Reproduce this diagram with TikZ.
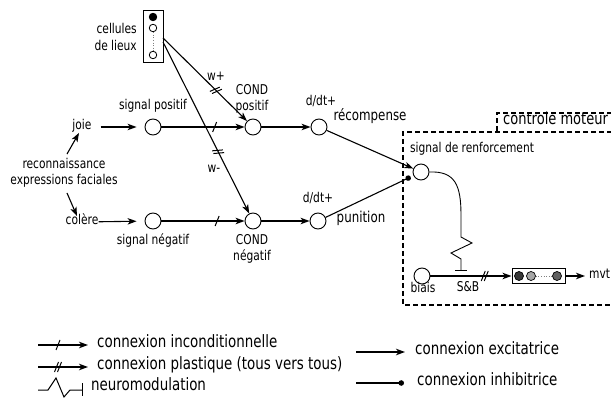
\documentclass[tikz,border=0pt]{standalone}
\usepackage{fontspec}
\setmainfont{DejaVu Sans}[FakeStretch=0.79]
\usetikzlibrary{arrows.meta,decorations.markings,calc}
\begin{document}
\begin{tikzpicture}[x=1pt,y=-1pt,
  neuron/.style={circle,draw,line width=0.9pt,minimum size=16pt,inner sep=0pt,fill=white},
  smallc/.style={circle,draw,line width=0.8pt,minimum size=7.5pt,inner sep=0pt},
  motc/.style={circle,draw,line width=0.7pt,minimum size=9pt,inner sep=0pt},
  lab/.style={font=\fontsize{13.5}{16.5}\selectfont,inner sep=0pt,text height=1ex,text depth=0pt},
  biglab/.style={font=\fontsize{15}{18}\selectfont,inner sep=0pt,text height=1ex,text depth=0pt},
  lab2/.style={font=\fontsize{13.5}{16.5}\selectfont,inner sep=0pt,align=center},
  leg/.style={font=\fontsize{17}{19}\selectfont,inner sep=0pt,anchor=west,text height=1ex,text depth=0pt},
  exc/.style={line width=1.1pt,-{Stealth[length=9pt,width=6.5pt,inset=2.5pt]}},
  inh/.style={line width=1.1pt,-{Circle[length=5.5pt]}},
  slash/.style={postaction={decorate},decoration={markings,mark=at position #1 with {\draw[line width=1pt,-] (-2pt,-5pt)--(2pt,5pt);}}},
  dslash/.style={postaction={decorate},decoration={markings,mark=at position #1 with {\draw[line width=1pt,-] (-3.5pt,-5pt)--(0.5pt,5pt) (-0.5pt,-5pt)--(3.5pt,5pt);}}},
  dbox/.style={line width=1.1pt,dash pattern=on 5pt off 3pt},
]
\useasboundingbox (0,0) rectangle (611,398);

% place cells
\node[draw,line width=1pt,minimum width=20pt,minimum height=52pt,inner sep=0pt] (cells) at (153,37) {};
\node[smallc,fill=black] (c1) at (153,17) {};
\node[smallc,fill=white] (c2) at (153,28) {};
\node[smallc,fill=white] (c3) at (153,55) {};
\draw[dotted,line width=0.6pt,gray] (c2) -- (c3);
\node[lab2,align=right,anchor=east] (celllab) at (137,37) {cellules\\de lieux};
\coordinate (wpo) at (163,38);
\coordinate (wmo) at (163,42);

% inputs
\node[lab2] (reco) at (64,173) {reconnaissance\\expressions faciales};
\node[lab] (joie) at (82,127) {joie};
\node[lab] (colere) at (82,222) {colère};

% positive row
\node[neuron] (sp) at (153,127) {};
\node[lab] (splab) at (153,107) {signal positif};
\node[neuron] (condp) at (253,127) {};
\node[lab2] (condplab) at (252,99) {COND\\positif};
\node[neuron] (rec) at (319,127) {};
\node[lab] (reclab1) at (321,103) {d/dt+};
\node[biglab] (reclab2) at (370,118) {récompense};

% negative row
\node[neuron] (sn) at (153,221) {};
\node[lab] (snlab) at (153,242) {signal négatif};
\node[neuron] (condn) at (253,221) {};
\node[lab2] (condnlab) at (252,249) {COND\\négatif};
\node[neuron] (pun) at (318,221) {};
\node[lab] (punlab1) at (318,200) {d/dt+};
\node[biglab] (punlab2) at (361,220) {punition};

% w labels
\node[lab] (wplus) at (216,78) {w+};
\node[lab] (wminus) at (214,170) {w-};

% motor control
\node[neuron] (renf) at (421,172) {};
\node[lab] (renflab) at (472,150) {signal de renforcement};
\node[neuron] (biais) at (422,276) {};
\node[lab] (biaislab) at (423,290) {biais};
\node[lab] (sb) at (468,289) {S\&B};
\node[draw,line width=1pt,minimum width=53pt,minimum height=15pt,inner sep=0pt] (motor) at (538.5,276) {};
\node[motc,fill=black!78] (m1) at (519,276) {};
\node[motc,fill=black!35] (m2) at (531,276) {};
\node[motc,fill=black!62] (m3) at (557,276) {};
\draw[dotted,line width=0.6pt,gray] (m2) -- (m3);
\node[lab,anchor=west] (mvt) at (589,276) {mvt};
\coordinate (tbar) at (461,271);

% dashed boxes
\draw[dbox] (612,132) -- (403,132) -- (403,305) -- (612,305);
\draw[dbox] (612,113) -- (497,113) -- (497,132);
\node[font=\fontsize{16.5}{19}\selectfont,inner sep=0pt,anchor=west,text height=1ex,text depth=0pt] (ctrl) at (503,122) {controle moteur};

% connectors
\draw[exc,shorten <=9pt,shorten >=8pt] (joie) -- (sp);
\draw[exc,shorten >=8pt] (colere) -- (sn);
\draw[exc] ($(reco.north)+(3,-4)$) -- ($(joie.south)+(-3,3)$);
\draw[exc] ($(reco.south)+(3,5)$) -- ($(colere.north)+(-5,-3)$);
\draw[exc,slash=0.64] (sp) -- (condp);
\draw[exc,slash=0.67] (sn) -- (condn);
\draw[exc,dslash=0.63] (wpo) -- (condp);
\draw[exc,dslash=0.64] (wmo) -- (condn);
\draw[exc] (condp) -- (rec);
\draw[exc] (condn) -- (pun);
\draw[exc] (rec) -- (renf);
\draw[inh,shorten >=3pt] (pun) -- (renf);
\draw[line width=0.9pt] (renf.east) .. controls (455,171) and (461,185) .. (461,215) -- (461,237) -- (472,243) -- (451,253) -- (461,259) -- (tbar);
\draw[line width=1pt] ($(tbar)+(-6,0)$) -- ($(tbar)+(6,0)$);
\draw[exc,dslash=0.67] (biais) -- (motor);
\draw[exc,shorten >=4pt] (motor) -- (mvt);

% legend
\coordinate (l1a) at (38,345); \coordinate (l1b) at (88,345);
\draw[exc,slash=0.4] (l1a) -- (l1b);
\node[leg] (l1t) at (97,345) {connexion inconditionnelle};
\coordinate (l2a) at (38,367); \coordinate (l2b) at (88,367);
\draw[exc,dslash=0.4] (l2a) -- (l2b);
\node[leg] (l2t) at (97,367) {connexion plastique (tous vers tous)};
\coordinate (l3a) at (38,390); \coordinate (l3b) at (82,390);
\draw[line width=1pt] (l3a) -- (48,390) -- (56,378) -- (64,397) -- (70,390) -- (l3b);
\draw[line width=1pt] (82,383) -- (82,396);
\node[leg] (l3t) at (91,388) {neuromodulation};
\coordinate (l4a) at (356,352); \coordinate (l4b) at (405,352);
\draw[exc] (l4a) -- (l4b);
\node[leg] (l4t) at (415,352) {connexion excitatrice};
\coordinate (l5a) at (356,383); \coordinate (l5b) at (404,383);
\draw[inh] (l5a) -- (l5b);
\node[leg] (l5t) at (417,383) {connexion inhibitrice};
\end{tikzpicture}
\end{document}
